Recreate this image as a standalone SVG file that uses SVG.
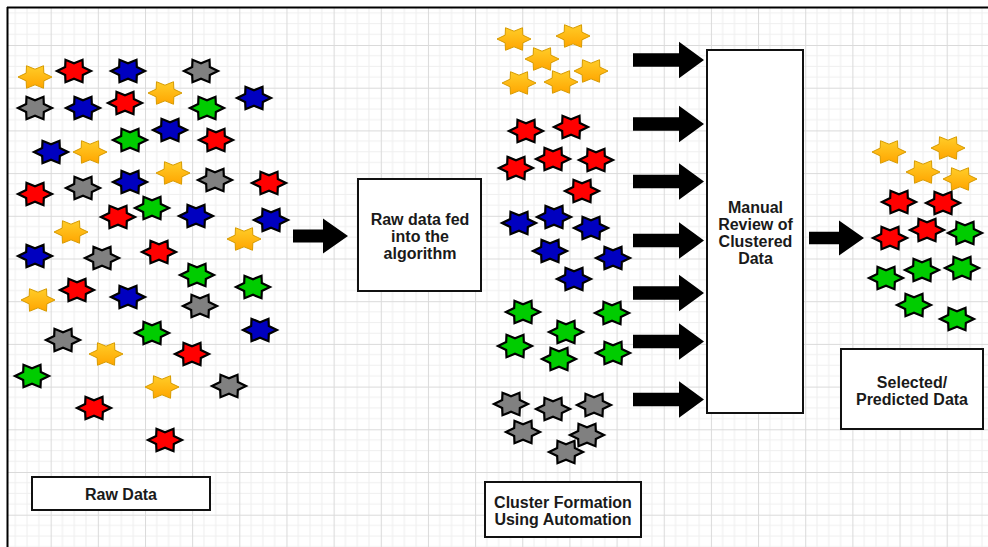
<svg xmlns="http://www.w3.org/2000/svg" xmlns:xlink="http://www.w3.org/1999/xlink" width="988" height="547" viewBox="0 0 988 547">
  <style>
    .lbl { font-family: "Liberation Sans", Arial, sans-serif; font-size: 16px; font-weight: bold; fill: #1a1a1a; text-anchor: middle; }
    .box { fill: #fff; stroke: #111; stroke-width: 2; }
    .arrow { fill: #000; stroke: none; }
    .y { fill: url(#gold); stroke: #d79b00; stroke-width: 1; }
    .r { fill: #ff0000; stroke: #000; stroke-width: 2.2; }
    .b { fill: #0000c0; stroke: #000; stroke-width: 2.2; }
    .g { fill: #00cc00; stroke: #000; stroke-width: 2.2; }
    .k { fill: #808080; stroke: #000; stroke-width: 2.2; }
  </style>
  <defs>
    <linearGradient id="gold" x1="0" y1="0" x2="0" y2="1">
      <stop offset="0" stop-color="#ffcd28"/>
      <stop offset="1" stop-color="#ffa500"/>
    </linearGradient>
    <!-- six-pointed star, slightly wider than tall -->
    <path id="star" d="M17,0 L8.83,3.9 L8.5,11.26 L0,7.8 L-8.5,11.26 L-8.83,3.9 L-17,0 L-8.83,-3.9 L-8.5,-11.26 L0,-7.8 L8.5,-11.26 L8.83,-3.9 Z"/>
    <pattern id="grid" patternUnits="userSpaceOnUse" x="3.5" y="2.3" width="47.16" height="42.7">
      <rect width="47.16" height="42.7" fill="#fff"/>
      <path d="M11.79,0V42.7M23.58,0V42.7M35.37,0V42.7M0,10.675H47.16M0,21.35H47.16M0,32.025H47.16" stroke="#efefef" stroke-width="1" fill="none"/>
      <path d="M0.5,0V42.7M0,0.5H47.16" stroke="#dadada" stroke-width="1" fill="none"/>
    </pattern>
  </defs>

  <!-- page background and grid -->
  <rect width="988" height="547" fill="#fff"/>
  <rect x="8" y="8" width="980" height="539" fill="url(#grid)"/>
  <path d="M7,7.5H988M7.5,7V547" stroke="#000" stroke-width="2" fill="none"/>

  <!-- unsorted input points -->
  <g id="raw-points">
    <use href="#star" class="y" x="35" y="77"/>
    <use href="#star" class="r" x="74" y="71"/>
    <use href="#star" class="b" x="128" y="71"/>
    <use href="#star" class="k" x="201" y="71"/>
    <use href="#star" class="y" x="165" y="93"/>
    <use href="#star" class="b" x="254" y="98"/>
    <use href="#star" class="k" x="35" y="108"/>
    <use href="#star" class="b" x="83" y="108"/>
    <use href="#star" class="r" x="125" y="103"/>
    <use href="#star" class="g" x="207" y="108"/>
    <use href="#star" class="b" x="170" y="130"/>
    <use href="#star" class="g" x="130" y="140"/>
    <use href="#star" class="r" x="216" y="140"/>
    <use href="#star" class="b" x="51" y="152"/>
    <use href="#star" class="y" x="90" y="152"/>
    <use href="#star" class="y" x="173" y="173"/>
    <use href="#star" class="b" x="130" y="182"/>
    <use href="#star" class="k" x="215" y="180"/>
    <use href="#star" class="r" x="269" y="183"/>
    <use href="#star" class="r" x="35" y="194"/>
    <use href="#star" class="k" x="83" y="188"/>
    <use href="#star" class="g" x="152" y="208"/>
    <use href="#star" class="r" x="118" y="217"/>
    <use href="#star" class="b" x="196" y="216"/>
    <use href="#star" class="b" x="271" y="220"/>
    <use href="#star" class="y" x="71" y="232"/>
    <use href="#star" class="y" x="244" y="239"/>
    <use href="#star" class="b" x="35" y="256"/>
    <use href="#star" class="k" x="102" y="258"/>
    <use href="#star" class="r" x="159" y="252"/>
    <use href="#star" class="g" x="197" y="275"/>
    <use href="#star" class="g" x="253" y="287"/>
    <use href="#star" class="y" x="38" y="300"/>
    <use href="#star" class="r" x="77" y="290"/>
    <use href="#star" class="b" x="128" y="297"/>
    <use href="#star" class="k" x="200" y="306"/>
    <use href="#star" class="b" x="260" y="330"/>
    <use href="#star" class="k" x="63" y="340"/>
    <use href="#star" class="g" x="152" y="333"/>
    <use href="#star" class="y" x="106" y="354"/>
    <use href="#star" class="r" x="192" y="354"/>
    <use href="#star" class="g" x="32" y="376"/>
    <use href="#star" class="y" x="162" y="387"/>
    <use href="#star" class="k" x="229" y="386"/>
    <use href="#star" class="r" x="94" y="408"/>
    <use href="#star" class="r" x="165" y="440"/>
  </g>

  <!-- points grouped by colour -->
  <g id="clusters">
    <use href="#star" class="y" x="514" y="39"/>
    <use href="#star" class="y" x="573" y="36"/>
    <use href="#star" class="y" x="542" y="59"/>
    <use href="#star" class="y" x="591" y="71"/>
    <use href="#star" class="y" x="519" y="83"/>
    <use href="#star" class="y" x="561" y="82"/>
    <use href="#star" class="r" x="526" y="131"/>
    <use href="#star" class="r" x="571" y="127"/>
    <use href="#star" class="r" x="553" y="159"/>
    <use href="#star" class="r" x="596" y="160"/>
    <use href="#star" class="r" x="516" y="168"/>
    <use href="#star" class="r" x="582" y="191"/>
    <use href="#star" class="b" x="519" y="223"/>
    <use href="#star" class="b" x="554" y="217"/>
    <use href="#star" class="b" x="591" y="228"/>
    <use href="#star" class="b" x="550" y="251"/>
    <use href="#star" class="b" x="613" y="258"/>
    <use href="#star" class="b" x="574" y="279"/>
    <use href="#star" class="g" x="523" y="312"/>
    <use href="#star" class="g" x="612" y="313"/>
    <use href="#star" class="g" x="566" y="332"/>
    <use href="#star" class="g" x="515" y="346"/>
    <use href="#star" class="g" x="559" y="359"/>
    <use href="#star" class="g" x="613" y="353"/>
    <use href="#star" class="k" x="511" y="404"/>
    <use href="#star" class="k" x="553" y="409"/>
    <use href="#star" class="k" x="594" y="405"/>
    <use href="#star" class="k" x="523" y="432"/>
    <use href="#star" class="k" x="587" y="435"/>
    <use href="#star" class="k" x="566" y="452"/>
  </g>

  <!-- points kept after review -->
  <g id="selected-points">
    <use href="#star" class="y" x="889" y="152"/>
    <use href="#star" class="y" x="948" y="148"/>
    <use href="#star" class="y" x="923" y="172"/>
    <use href="#star" class="y" x="960" y="179"/>
    <use href="#star" class="r" x="899" y="202"/>
    <use href="#star" class="r" x="943" y="203"/>
    <use href="#star" class="r" x="890" y="238"/>
    <use href="#star" class="r" x="927" y="230"/>
    <use href="#star" class="g" x="965" y="233"/>
    <use href="#star" class="g" x="886" y="278"/>
    <use href="#star" class="g" x="922" y="270"/>
    <use href="#star" class="g" x="962" y="268"/>
    <use href="#star" class="g" x="914" y="305"/>
    <use href="#star" class="g" x="957" y="319"/>
  </g>

  <!-- block arrows -->
  <g id="connectors">
    <polygon class="arrow" points="293,229.5 323,229.5 323,218.5 348,236 323,253.5 323,242.5 293,242.5"/>
    <polygon class="arrow" points="633,53.3 679,53.3 679,41.7 704,60 679,78.3 679,66.7 633,66.7"/>
    <polygon class="arrow" points="633,117.3 679,117.3 679,105.7 704,124 679,142.3 679,130.7 633,130.7"/>
    <polygon class="arrow" points="633,174.8 679,174.8 679,163.2 704,181.5 679,199.8 679,188.2 633,188.2"/>
    <polygon class="arrow" points="633,233.8 679,233.8 679,222.2 704,240.5 679,258.8 679,247.2 633,247.2"/>
    <polygon class="arrow" points="633,286.3 679,286.3 679,274.7 704,293 679,311.3 679,299.7 633,299.7"/>
    <polygon class="arrow" points="633,334.8 679,334.8 679,323.2 704,341.5 679,359.8 679,348.2 633,348.2"/>
    <polygon class="arrow" points="633,392.8 679,392.8 679,381.2 704,399.5 679,417.8 679,406.2 633,406.2"/>
    <polygon class="arrow" points="809,231.8 839,231.8 839,220.5 864,238 839,255.5 839,244.2 809,244.2"/>
  </g>

  <g id="raw-data">
    <rect class="box" x="32" y="477" width="178" height="33"/>
    <text class="lbl" x="121" y="500">Raw Data</text>
  </g>

  <g id="algorithm">
    <rect class="box" x="358" y="179" width="123" height="112"/>
    <text class="lbl" x="420" y="225">Raw data fed</text>
    <text class="lbl" x="420" y="242">into the</text>
    <text class="lbl" x="420" y="258.5">algorithm</text>
  </g>

  <g id="cluster-formation">
    <rect class="box" x="485" y="482" width="156" height="55"/>
    <text class="lbl" x="563" y="507.5">Cluster Formation</text>
    <text class="lbl" x="563" y="525">Using Automation</text>
  </g>

  <g id="manual-review">
    <rect class="box" x="707" y="50" width="96" height="363"/>
    <text class="lbl" x="755.5" y="213.3">Manual</text>
    <text class="lbl" x="755.5" y="230.3">Review of</text>
    <text class="lbl" x="755.5" y="247.3">Clustered</text>
    <text class="lbl" x="755.5" y="264.3">Data</text>
  </g>

  <g id="selected-data">
    <rect class="box" x="841" y="349" width="142" height="80"/>
    <text class="lbl" x="912" y="388">Selected/</text>
    <text class="lbl" x="912" y="405">Predicted Data</text>
  </g>
</svg>
